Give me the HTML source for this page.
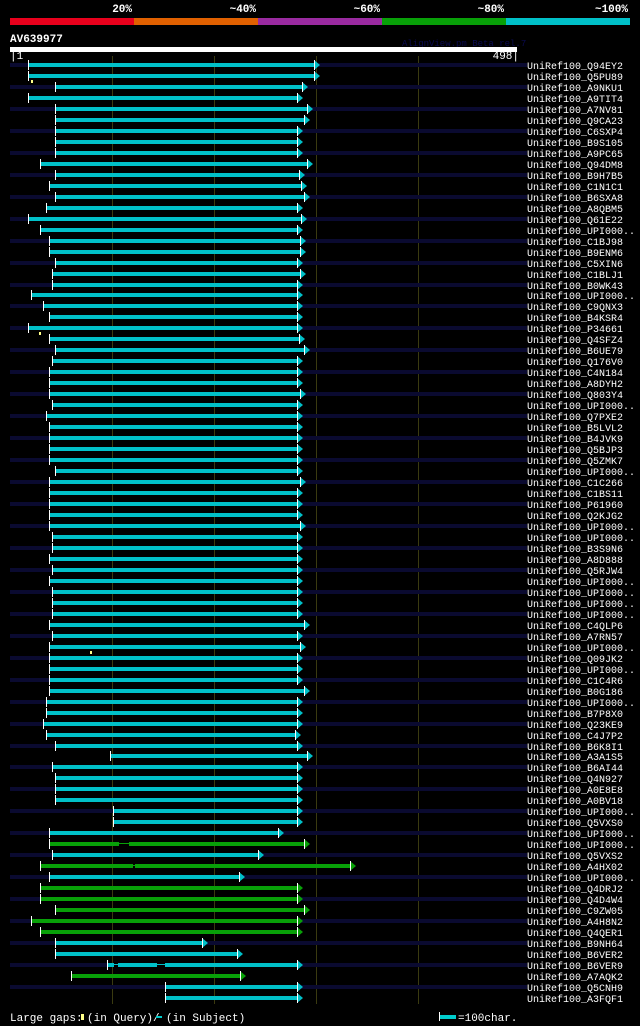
<!DOCTYPE html>
<html><head><meta charset="utf-8"><style>
html,body{margin:0;padding:0;background:#000;width:640px;height:1026px;overflow:hidden}
svg{display:block}
text{font-family:"Liberation Mono",monospace}
</style></head><body>
<svg id="chart" width="640" height="1026" xmlns="http://www.w3.org/2000/svg" shape-rendering="crispEdges">
<g id="hdr"></g>
<g id="grid"></g>
<g id="rows"></g>
<g id="foot">
<text x="10" y="1021" fill="#fff" font-size="11">Large gaps:</text>
<rect x="81" y="1014" width="3" height="6" fill="#ff8"/>
<text x="87" y="1021" fill="#fff" font-size="11">(in Query)/</text>
<rect x="156" y="1016" width="6" height="2" fill="#0cc"/>
<text x="166" y="1021" fill="#fff" font-size="11">(in Subject)</text>
<rect x="439" y="1015" width="17" height="4" fill="#0cc"/>
<rect x="439" y="1012" width="1" height="9" fill="#fff"/>
<text x="458" y="1021" fill="#fff" font-size="11">=100char.</text>
</g>
</svg>
<script>
const queryLength = 498;
const gridTicks = [100, 200, 300, 400];
const pctLabels = ["20%", "~40%", "~60%", "~80%", "~100%"];
const pctColors = ["#e8001c", "#e06000", "#9a2aa0", "#08a008", "#00c0c8"];
const hitNames = ["Q94EY2","Q5PU89","A9NKU1","A9TIT4","A7NV81","Q9CA23","C6SXP4","B9S105","A9PC65","Q94DM8","B9H7B5","C1N1C1","B6SXA8","A8QBM5","Q61E22","UPI000..","C1BJ98","B9ENM6","C5XIN6","C1BLJ1","B0WK43","UPI000..","C9QNX3","B4KSR4","P34661","Q4SFZ4","B6UE79","Q176V0","C4N184","A8DYH2","Q803Y4","UPI000..","Q7PXE2","B5LVL2","B4JVK9","Q5BJP3","Q5ZMK7","UPI000..","C1C266","C1BS11","P61960","Q2KJG2","UPI000..","UPI000..","B3S9N6","A8D888","Q5RJW4","UPI000..","UPI000..","UPI000..","UPI000..","C4QLP6","A7RN57","UPI000..","Q09JK2","UPI000..","C1C4R6","B0G186","UPI000..","B7P8X0","Q23KE9","C4J7P2","B6K8I1","A3A1S5","B6AI44","Q4N927","A0E8E8","A0BV18","UPI000..","Q5VXS0","UPI000..","UPI000..","Q5VXS2","A4HX02","UPI000..","Q4DRJ2","Q4D4W4","C9ZW05","A4H8N2","Q4QER1","B9NH64","B6VER2","B6VER9","A7AQK2","Q5CNH9","A3FQF1"];
const hitStarts = [19,19,45,19,45,45,45,45,45,30,45,39,45,36,19,30,39,39,45,42,42,22,33,39,19,39,45,42,39,39,39,42,36,39,39,39,39,45,39,39,39,39,39,42,42,39,42,39,42,42,42,39,42,39,39,39,39,39,36,36,33,36,45,99,42,45,45,45,102,102,39,39,42,30,39,30,30,45,22,30,45,45,96,61,153,153];
const hitEnds = [305,305,293,288,298,295,288,288,288,298,290,292,295,288,292,288,291,291,288,291,288,288,288,288,288,290,295,288,288,288,291,288,288,288,288,288,288,288,291,288,288,288,291,288,288,288,288,288,288,288,288,295,288,291,288,288,288,295,288,288,288,286,288,298,288,288,288,288,288,288,270,295,250,340,231,288,288,295,288,288,195,229,288,232,288,288];
const hitIdentity = [4,4,4,4,4,4,4,4,4,4,4,4,4,4,4,4,4,4,4,4,4,4,4,4,4,4,4,4,4,4,4,4,4,4,4,4,4,4,4,4,4,4,4,4,4,4,4,4,4,4,4,4,4,4,4,4,4,4,4,4,4,4,4,4,4,4,4,4,4,4,4,3,4,3,4,3,3,3,3,3,4,4,4,3,4,4];
const queryGaps = [[1,22],[24,29],[53,79]];
const subjectGaps = [[71,108,118],[73,122,124],[82,103,107],[82,145,153]];

const NS="http://www.w3.org/2000/svg";
const X0=10, X1=517;
function xs(p){return Math.round(X0+(p-1)*(X1-X0)/(queryLength-1));}
function rowY(i){return Math.round(65+i*10.976);}
function mk(tag,attrs,parent){const e=document.createElementNS(NS,tag);for(const k in attrs)e.setAttribute(k,attrs[k]);parent.appendChild(e);return e;}
const hdr=document.getElementById('hdr'),grid=document.getElementById('grid'),rows=document.getElementById('rows');

pctLabels.forEach((lab,i)=>{
  const r=mk('rect',{x:10+i*124,y:18,width:124,height:7,fill:pctColors[i]},hdr);
  
  
  const t=mk('text',{x:134+i*124-2,y:12,fill:'#fff','font-size':'11','font-weight':'bold','text-anchor':'end'},hdr);
  t.textContent=lab;
  
  
});
let t=mk('text',{x:10,y:42,fill:'#fff','font-size':'11','font-weight':'bold'},hdr);t.textContent='AV639977';


t=mk('text',{x:402,y:46,fill:'#0a0a50','font-size':'9'},hdr);t.textContent='AlignView.pm Beta rel.7';


let q=mk('rect',{x:X0,y:47,width:X1-X0,height:5,fill:'#fff'},hdr);


t=mk('text',{x:10,y:59,fill:'#fff','font-size':'11'},hdr);t.textContent='|1';


t=mk('text',{x:X1+2,y:59,fill:'#fff','font-size':'11','text-anchor':'end'},hdr);t.textContent='498|';



gridTicks.forEach(g=>{
  const l=mk('rect',{x:xs(g+1),y:56,width:1,height:948,fill:'#3a3a10'},grid);
  
  
});

hitNames.forEach((n,i)=>{
  const y=rowY(i), g=mk('g',{},rows);
  
  
  if(i%2===0){const b=mk('rect',{x:X0,y:y-2,width:517,height:4,fill:'#0a0a30'},g);
    
    }
  const col=pctColors[hitIdentity[i]];
  const sx=xs(hitStarts[i]), ex=xs(hitEnds[i]);
  const bar=mk('rect',{x:sx,y:y-2,width:ex-sx-6,height:4,fill:col},g);
  
  
  const tk=mk('rect',{x:sx,y:y-5,width:1,height:10,fill:'#fff'},g);
  
  
  const ar=mk('polygon',{points:`${ex-6},${y-5} ${ex},${y} ${ex-6},${y+5}`,fill:col,'shape-rendering':'auto'},g);
  
  
  const ak=mk('rect',{x:ex-6,y:y-5,width:1,height:10,fill:'#fff'},g);
  
  
  const lb=mk('text',{x:527,y:y+4,fill:'#fff','font-size':'10'},g);
  lb.textContent='UniRef100_'+n;
  
  
});
queryGaps.forEach(([r,p])=>{
  const m=mk('rect',{x:xs(p),y:rowY(r)+4,width:2,height:3,fill:'#ff8'},rows);
  
  
});
subjectGaps.forEach(([r,a,b])=>{
  const y=rowY(r);
  const c=mk('rect',{x:xs(a),y:y-2,width:xs(b)-xs(a),height:4,fill:'#000'},rows);
  
  
  const m=mk('rect',{x:xs(a),y:y-1,width:xs(b)-xs(a),height:1,fill:pctColors[hitIdentity[r]]},rows);
  
  
});
</script>
</body></html>
